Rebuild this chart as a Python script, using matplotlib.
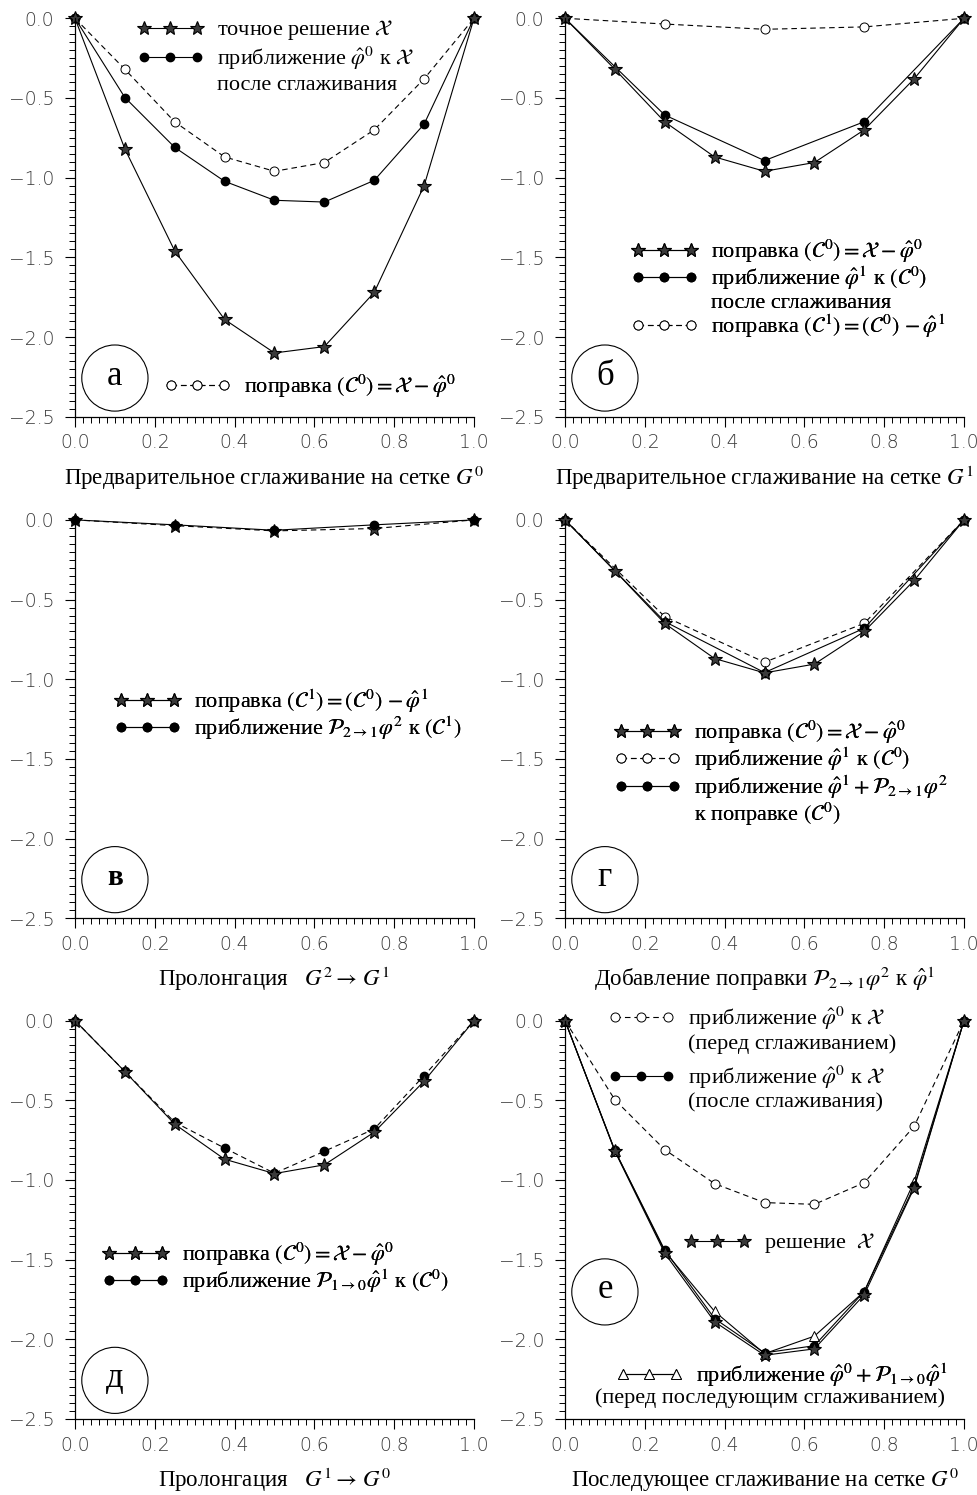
import matplotlib
matplotlib.use('Agg')
import matplotlib.pyplot as plt
from matplotlib.lines import Line2D
from matplotlib.patches import Circle
from matplotlib.ticker import MultipleLocator

plt.rcParams['font.family'] = ['Liberation Serif', 'DejaVu Serif']
plt.rcParams['mathtext.fontset'] = 'stix'

# -----------------------------------------------------------------------------
# data (grid G0 has 9 nodes, grid G1 has 5 nodes)
# -----------------------------------------------------------------------------
x_fine = [0.0, 0.125, 0.25, 0.375, 0.5, 0.625, 0.75, 0.875, 1.0]
x_coarse = [0.0, 0.25, 0.5, 0.75, 1.0]

chi = [0.0, -0.82, -1.46, -1.89, -2.10, -2.06, -1.72, -1.05, 0.0]
phi0_smooth = [0.0, -0.497, -0.81, -1.023, -1.142, -1.153, -1.017, -0.664, 0.0]
c0 = [0.0, -0.32, -0.65, -0.87, -0.96, -0.905, -0.70, -0.38, 0.0]
phi1 = [0.0, -0.607, -0.893, -0.649, 0.0]
c1 = [0.0, -0.036, -0.069, -0.054, 0.0]
p21_phi2 = [0.0, -0.031, -0.065, -0.031, 0.0]
phi1_corr = [0.0, -0.638, -0.958, -0.680, 0.0]
p10_phi1 = [0.0, -0.319, -0.638, -0.80, -0.958, -0.82, -0.68, -0.345, 0.0]
phi0_plus = [0.0, -0.816, -1.448, -1.825, -2.09, -1.98, -1.70, -1.01, 0.0]
phi0_post = [0.0, -0.815, -1.44, -1.87, -2.085, -2.04, -1.70, -1.04, 0.0]

# -----------------------------------------------------------------------------
# styles
# -----------------------------------------------------------------------------
LW = 0.8
DASH = (0, (5, 3.5))
star = dict(color='k', lw=LW, marker='*', ms=10.5, mfc='#3a3a3a', mec='k', mew=0.8)
dot = dict(color='k', lw=LW, marker='o', ms=6, mfc='k', mec='k')
ring = dict(color='k', lw=LW, ls=DASH, marker='o', ms=6.5, mfc='white', mec='k', mew=0.7)
tri = dict(color='k', lw=LW, marker='^', ms=6.5, mfc='white', mec='k', mew=0.7)

star_h = Line2D([], [], **star)
dot_h = Line2D([], [], **dot)
ring_h = Line2D([], [], **ring)
tri_h = Line2D([], [], **tri)
blank_h = Line2D([], [], ls='none')

LFS = 16

fig = plt.figure(figsize=(9.78, 14.95), dpi=100)
col_left = [75 / 978, 565 / 978]
row_bottom = [1 - 416.7 / 1495, 1 - 918.3 / 1495, 1 - 1419 / 1495]
W, H = 399 / 978, 398.4 / 1495


def make_axes(row, col, letter, xlabel, circ_y=0.097, bold=False):
    ax = fig.add_axes([col_left[col], row_bottom[row], W, H])
    ax.set_xlim(0, 1)
    ax.set_ylim(-2.5, 0)
    ax.spines['top'].set_visible(False)
    ax.spines['right'].set_visible(False)
    for s in ('left', 'bottom'):
        ax.spines[s].set_linewidth(0.9)
    ax.xaxis.set_major_locator(MultipleLocator(0.2))
    ax.xaxis.set_minor_locator(MultipleLocator(0.02))
    ax.yaxis.set_major_locator(MultipleLocator(0.5))
    ax.yaxis.set_minor_locator(MultipleLocator(0.05))
    ax.tick_params(which='major', direction='out', length=7, width=0.8,
                   labelsize=13.5, labelcolor='#3a3a3a')
    ax.tick_params(which='minor', direction='out', length=4, width=0.7)
    ax.tick_params(axis='y', which='major', pad=8)
    ax.tick_params(axis='x', which='major', pad=5)
    for lab in ax.get_xticklabels() + ax.get_yticklabels():
        lab.set_family('DejaVu Sans')
        lab.set_fontweight('light')
    ax.add_patch(Circle((0.1, circ_y), 0.083, transform=ax.transAxes,
                        fill=False, lw=0.8, clip_on=False))
    ax.text(0.1, circ_y + 0.005, letter, transform=ax.transAxes, ha='center',
            va='center', fontsize=21 if bold else 25,
            fontweight='bold' if bold else 'normal')
    ax.set_xlabel(xlabel, fontsize=16.5, labelpad=8)
    return ax


def legend(ax, handles, labels, anchor, loc='upper left', spacing=0.05):
    leg = ax.legend(handles, labels, loc=loc, bbox_to_anchor=anchor,
                    frameon=False, fontsize=LFS, numpoints=3, handlelength=3.0,
                    handletextpad=0.6, borderpad=0, borderaxespad=0,
                    labelspacing=spacing)
    ax.add_artist(leg)
    return leg


# -----------------------------------------------------------------------------
# а) pre-smoothing on G0
# -----------------------------------------------------------------------------
ax = make_axes(0, 0, 'а', 'Предварительное сглаживание на сетке $G^0$')
ax.plot(x_fine, c0, clip_on=False, **ring)
ax.plot(x_fine, phi0_smooth, clip_on=False, **dot)
ax.plot(x_fine, chi, clip_on=False, **star)
legend(ax, [star_h, dot_h, blank_h],
       [r'точное решение $\mathcal{X}$',
        r'приближение $\hat{\varphi}^0$ к $\mathcal{X}$',
        'после сглаживания'], (0.155, 1.0), spacing=0.1)
legend(ax, [ring_h], [r'поправка $(\mathcal{C}^0) = \mathcal{X} - \hat{\varphi}^0$'],
       (0.223, 0.075), loc='center left')

# -----------------------------------------------------------------------------
# б) pre-smoothing on G1
# -----------------------------------------------------------------------------
ax = make_axes(0, 1, 'б', 'Предварительное сглаживание на сетке $G^1$')
ax.plot(x_coarse, c1, clip_on=False, **ring)
ax.plot(x_coarse, phi1, clip_on=False, **dot)
ax.plot(x_fine, c0, clip_on=False, **star)
legend(ax, [star_h, dot_h, blank_h, ring_h],
       [r'поправка $(\mathcal{C}^0) = \mathcal{X} - \hat{\varphi}^0$',
        r'приближение $\hat{\varphi}^1$ к $(\mathcal{C}^0)$',
        'после сглаживания',
        r'поправка $(\mathcal{C}^1) = (\mathcal{C}^0)\, - \hat{\varphi}^1$'],
       (0.165, 0.45), spacing=0.0)

# -----------------------------------------------------------------------------
# в) prolongation G2 -> G1
# -----------------------------------------------------------------------------
ax = make_axes(1, 0, 'в', r'Пролонгация   $G^2 \rightarrow\, G^1$', bold=True)
ax.plot(x_coarse, c1, clip_on=False, **dict(star, ls=DASH))
ax.plot(x_coarse, p21_phi2, clip_on=False, **dot)
legend(ax, [star_h, dot_h],
       [r'поправка $(\mathcal{C}^1) = (\mathcal{C}^0)\, - \hat{\varphi}^1$',
        r'приближение $\mathcal{P}_{2\rightarrow 1}\varphi^2$ к $(\mathcal{C}^1)$'],
       (0.098, 0.580), spacing=0.0)

# -----------------------------------------------------------------------------
# г) adding the correction
# -----------------------------------------------------------------------------
ax = make_axes(1, 1, 'г',
               r'Добавление поправки $\mathcal{P}_{2\rightarrow 1}\varphi^2$ к $\hat{\varphi}^1$')
ax.plot(x_coarse, phi1, clip_on=False, **ring)
ax.plot(x_coarse, phi1_corr, clip_on=False, **dot)
ax.plot(x_fine, c0, clip_on=False, **star)
legend(ax, [star_h, ring_h, dot_h, blank_h],
       [r'поправка $(\mathcal{C}^0) = \mathcal{X} - \hat{\varphi}^0$',
        r'приближение $\hat{\varphi}^1$ к $(\mathcal{C}^0)$',
        r'приближение $\hat{\varphi}^1 + \mathcal{P}_{2\rightarrow 1}\varphi^2$',
        r'к поправке $(\mathcal{C}^0)$'],
       (0.123, 0.502), spacing=0.0)

# -----------------------------------------------------------------------------
# д) prolongation G1 -> G0
# -----------------------------------------------------------------------------
ax = make_axes(2, 0, 'д', r'Пролонгация   $G^1 \rightarrow\, G^0$')
ax.plot(x_fine, p10_phi1, clip_on=False, **dict(dot, ls=DASH))
ax.plot(x_fine, c0, clip_on=False, **star)
legend(ax, [star_h, dot_h],
       [r'поправка $(\mathcal{C}^0) = \mathcal{X} - \hat{\varphi}^0$',
        r'приближение $\mathcal{P}_{1\rightarrow 0}\hat{\varphi}^1$ к $(\mathcal{C}^0)$'],
       (0.068, 0.448), spacing=0.0)

# -----------------------------------------------------------------------------
# е) post-smoothing on G0
# -----------------------------------------------------------------------------
ax = make_axes(2, 1, 'е', 'Последующее сглаживание на сетке $G^0$', circ_y=0.319)
ax.plot(x_fine, phi0_smooth, clip_on=False, **ring)
ax.plot(x_fine, phi0_plus, clip_on=False, **tri)
ax.plot(x_fine, phi0_post, clip_on=False, **dot)
ax.plot(x_fine, chi, clip_on=False, **star)
legend(ax, [ring_h, blank_h],
       [r'приближение $\hat{\varphi}^0$ к $\mathcal{X}$', '(перед сглаживанием)'],
       (0.108, 1.04), spacing=0.05)
legend(ax, [dot_h, blank_h],
       [r'приближение $\hat{\varphi}^0$ к $\mathcal{X}$', '(после сглаживания)'],
       (0.108, 0.892), spacing=0.05)
legend(ax, [star_h], [r'решение  $\mathcal{X}$'], (0.298, 0.441), loc='center left')
legend(ax, [tri_h],
       [r'приближение $\hat{\varphi}^0 + \mathcal{P}_{1\rightarrow 0}\hat{\varphi}^1$'],
       (0.128, 0.11), loc='center left')
ax.text(0.075, 0.052, '(перед последующим сглаживанием)', transform=ax.transAxes,
        ha='left', va='center', fontsize=LFS)

fig.savefig('out.png', dpi=100)
